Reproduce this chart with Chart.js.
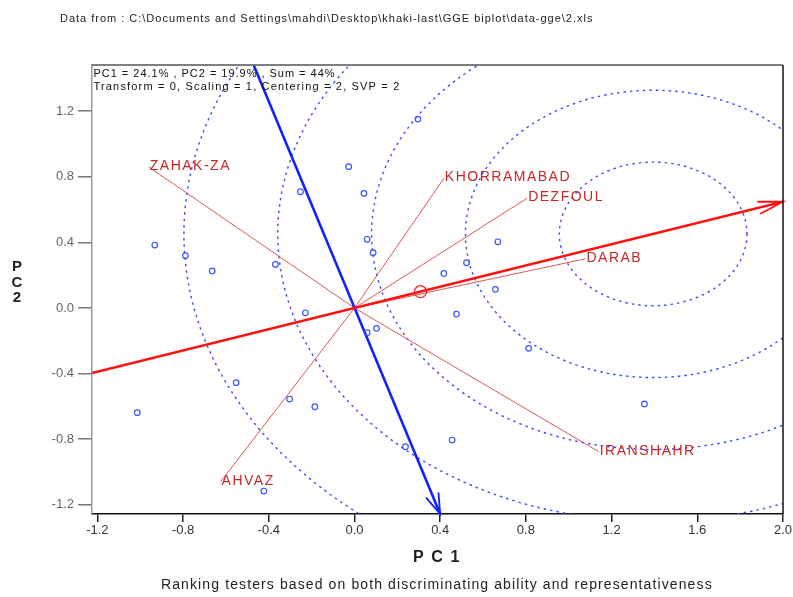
<!DOCTYPE html>
<html>
<head>
<meta charset="utf-8">
<script src="https://cdn.jsdelivr.net/npm/chart.js@4/dist/chart.umd.min.js"></script>
<style>
  html, body { margin: 0; padding: 0; background: #fff; }
  #wrap { width: 793px; height: 597px; }
</style>
</head>
<body>
<div id="wrap"><canvas id="biplot" width="793" height="597"></canvas></div>
<script>
// Axis ranges and tick labels
const xTicks = [-1.2, -0.8, -0.4, 0.0, 0.4, 0.8, 1.2, 1.6, 2.0];
const yTicks = [-1.2, -0.8, -0.4, 0.0, 0.4, 0.8, 1.2];
const xRange = [-1.225, 2.0];
const yRange = [-1.256, 1.482];

// Genotype scores (PC1, PC2)
const genotypeX = [0.296, -0.027, 0.044, -0.252, -0.932, -0.789, -0.664, -0.369, 0.059, 0.087,
                   0.669, 0.523, 0.417, 0.658, 0.476, -0.229, 0.103, 0.059, 0.813, 1.353,
                   0.456, 0.238, -1.014, -0.552, -0.303, -0.185, -0.423];
const genotypeY = [1.152, 0.862, 0.699, 0.709, 0.384, 0.319, 0.226, 0.266, 0.419, 0.337,
                   0.404, 0.276, 0.211, 0.114, -0.037, -0.029, -0.124, -0.150, -0.246, -0.585,
                   -0.805, -0.846, -0.638, -0.455, -0.555, -0.602, -1.116];

// Environment (tester) vectors
const envNames = ['ZAHAK-ZA', 'KHORRAMABAD', 'DEZFOUL', 'DARAB', 'IRANSHAHR', 'AHVAZ'];
const envX = [-0.960, 0.417, 0.806, 1.078, 1.140, -0.625];
const envY = [0.860, 0.790, 0.670, 0.300, -0.876, -1.060];

// Average environment coordinate and its axes
const aecPoint = [0.308, 0.100];
const aecAbscissaX = [-1.225, 2.0];
const aecAbscissaY = [-0.396, 0.648];
const aecOrdinateX = [-0.470, 0.400];
const aecOrdinateY = [1.480, -1.256];

// Concentric rings around the ideal tester
const idealCenter = [1.394, 0.452];
const ringRadii = [0.438, 0.876, 1.314, 1.752, 2.190];

const FONT = '"Liberation Sans", Arial, sans-serif';

function pts(xs, ys) { return xs.map((x, i) => ({ x: x, y: ys[i] })); }

// Draw text stretched to a given width with letter spacing
function spacedText(ctx, text, x, y, width) {
  ctx.save();
  ctx.textAlign = 'left';
  ctx.textBaseline = 'middle';
  const w = ctx.measureText(text).width;
  const n = [...text].length;
  if ('letterSpacing' in ctx) {
    ctx.letterSpacing = ((width - w) / n).toFixed(2) + 'px';
    ctx.fillText(text, x, y);
  } else {
    ctx.translate(x, y);
    ctx.scale(width / w, 1);
    ctx.fillText(text, 0, 0);
  }
  ctx.restore();
}

function arrowHead(ctx, fx, fy, tx, ty, len, deg, color, lw) {
  const back = Math.atan2(fy - ty, fx - tx);
  const a = deg * Math.PI / 180;
  ctx.save();
  ctx.strokeStyle = color;
  ctx.lineWidth = lw;
  ctx.lineCap = 'round';
  ctx.beginPath();
  ctx.moveTo(tx + len * Math.cos(back + a), ty + len * Math.sin(back + a));
  ctx.lineTo(tx, ty);
  ctx.lineTo(tx + len * Math.cos(back - a), ty + len * Math.sin(back - a));
  ctx.stroke();
  ctx.restore();
}

const ringsPlugin = {
  id: 'rings',
  beforeDatasetsDraw(chart) {
    const { ctx, chartArea: ca, scales: { x, y } } = chart;
    const cx = x.getPixelForValue(idealCenter[0]);
    const cy = y.getPixelForValue(idealCenter[1]);
    const ux = x.getPixelForValue(1) - x.getPixelForValue(0);
    const uy = y.getPixelForValue(0) - y.getPixelForValue(1);
    ctx.save();
    ctx.beginPath();
    ctx.rect(ca.left, ca.top, ca.right - ca.left, ca.bottom - ca.top);
    ctx.clip();
    ctx.strokeStyle = '#3a4cff';
    ctx.lineWidth = 1.4;
    ctx.setLineDash([2.5, 4]);
    ringRadii.forEach(r => {
      ctx.beginPath();
      ctx.ellipse(cx, cy, r * ux, r * uy, 0, 0, Math.PI * 2);
      ctx.stroke();
    });
    ctx.restore();
  }
};

const decorPlugin = {
  id: 'decor',
  afterDatasetsDraw(chart) {
    const { ctx, chartArea: ca, scales: { x, y } } = chart;
    const px = v => x.getPixelForValue(v);
    const py = v => y.getPixelForValue(v);

    // arrow heads on the AEC axes
    arrowHead(ctx, px(aecAbscissaX[0]), py(aecAbscissaY[0]), px(aecAbscissaX[1]), py(aecAbscissaY[1]), 25, 14, '#ff1010', 1.8);
    arrowHead(ctx, px(aecOrdinateX[0]), py(aecOrdinateY[0]), px(aecOrdinateX[1]), py(aecOrdinateY[1]), 21, 18, '#1020ff', 1.8);

    // environment labels
    ctx.save();
    ctx.fillStyle = '#c62828';
    ctx.font = '14px ' + FONT;
    ctx.textAlign = 'left';
    ctx.textBaseline = 'middle';
    if ('letterSpacing' in ctx) ctx.letterSpacing = '1.5px';
    envNames.forEach((n, i) => {
      ctx.fillText(n, px(envX[i]) + 1, py(envY[i]) - 1);
    });
    ctx.restore();

    // frame: top and right edges
    ctx.save();
    ctx.lineWidth = 1.5;
    ctx.strokeStyle = '#555';
    ctx.beginPath();
    ctx.moveTo(ca.left, ca.top);
    ctx.lineTo(ca.right, ca.top);
    ctx.stroke();
    ctx.strokeStyle = '#111';
    ctx.beginPath();
    ctx.moveTo(ca.right, ca.top);
    ctx.lineTo(ca.right, ca.bottom);
    ctx.stroke();
    ctx.restore();

    // info text inside the plot
    ctx.save();
    ctx.fillStyle = '#111';
    ctx.font = '11px ' + FONT;
    spacedText(ctx, 'PC1 = 24.1% , PC2 = 19.9% , Sum = 44%', 93.5, 73.5, 242);
    spacedText(ctx, 'Transform = 0, Scaling = 1, Centering = 2, SVP = 2', 93.5, 86.5, 307);
    ctx.restore();
  },
  afterDraw(chart) {
    const ctx = chart.ctx;
    ctx.save();
    ctx.fillStyle = '#222';
    ctx.font = '11px ' + FONT;
    spacedText(ctx, 'Data from : C:\\Documents and Settings\\mahdi\\Desktop\\khaki-last\\GGE biplot\\data-gge\\2.xls', 60, 19, 533);
    ctx.font = 'bold 16px ' + FONT;
    spacedText(ctx, 'P C 1', 413, 558, 48);
    ctx.font = '14px ' + FONT;
    spacedText(ctx, 'Ranking testers based on both discriminating ability and representativeness', 161, 585, 552);
    ctx.font = 'bold 15px ' + FONT;
    ctx.textAlign = 'center';
    ctx.textBaseline = 'middle';
    ['P', 'C', '2'].forEach((ch, i) => ctx.fillText(ch, 17, 267 + i * 15.5));
    ctx.restore();
  }
};

const envDatasets = envNames.map((n, i) => ({
  label: n,
  data: [{ x: 0, y: 0 }, { x: envX[i], y: envY[i] }],
  showLine: true,
  borderColor: '#e05555',
  borderWidth: 1,
  pointRadius: 0
}));

new Chart(document.getElementById('biplot'), {
  type: 'scatter',
  data: {
    datasets: [
      {
        label: 'Genotypes',
        data: pts(genotypeX, genotypeY),
        pointStyle: 'circle',
        pointRadius: 2.8,
        borderColor: '#3b55ff',
        backgroundColor: 'rgba(0,0,0,0)',
        borderWidth: 1.2
      },
      {
        label: 'AEC',
        data: [{ x: aecPoint[0], y: aecPoint[1] }],
        pointRadius: 6,
        borderColor: '#ff2020',
        backgroundColor: 'rgba(0,0,0,0)',
        borderWidth: 1.4
      },
      {
        label: 'AEC abscissa',
        data: pts(aecAbscissaX, aecAbscissaY),
        showLine: true,
        borderColor: '#ff1010',
        borderWidth: 2.6,
        pointRadius: 0
      },
      {
        label: 'AEC ordinate',
        data: pts(aecOrdinateX, aecOrdinateY),
        showLine: true,
        borderColor: '#1020ff',
        borderWidth: 2.6,
        pointRadius: 0
      },
      ...envDatasets
    ]
  },
  options: {
    responsive: false,
    devicePixelRatio: 1,
    animation: false,
    layout: { padding: { top: 65, right: 10, bottom: 0, left: 0 } },
    plugins: { legend: { display: false }, tooltip: { enabled: false } },
    scales: {
      x: {
        type: 'linear',
        min: xRange[0],
        max: xRange[1],
        afterBuildTicks: s => { s.ticks = xTicks.map(v => ({ value: v })); },
        afterFit: s => { s.height = 83; s.paddingLeft = 0; s.paddingRight = 0; },
        ticks: {
          autoSkip: false, maxRotation: 0, padding: 1,
          color: '#333', font: { family: FONT, size: 13 },
          callback: v => Number(v).toFixed(1)
        },
        grid: { drawOnChartArea: false, tickLength: 8, color: '#222', lineWidth: 1.5 },
        border: { color: '#111', width: 1.5 }
      },
      y: {
        type: 'linear',
        min: yRange[0],
        max: yRange[1],
        afterBuildTicks: s => { s.ticks = yTicks.map(v => ({ value: v })); },
        afterFit: s => { s.width = 92; s.paddingTop = 0; s.paddingBottom = 0; },
        ticks: {
          autoSkip: false, padding: 4,
          color: '#666', font: { family: FONT, size: 13 },
          callback: v => Number(v).toFixed(1)
        },
        grid: { drawOnChartArea: false, tickLength: 14, color: '#777', lineWidth: 1.5 },
        border: { color: '#999', width: 1.5 }
      }
    }
  },
  plugins: [ringsPlugin, decorPlugin]
});
</script>
</body>
</html>
